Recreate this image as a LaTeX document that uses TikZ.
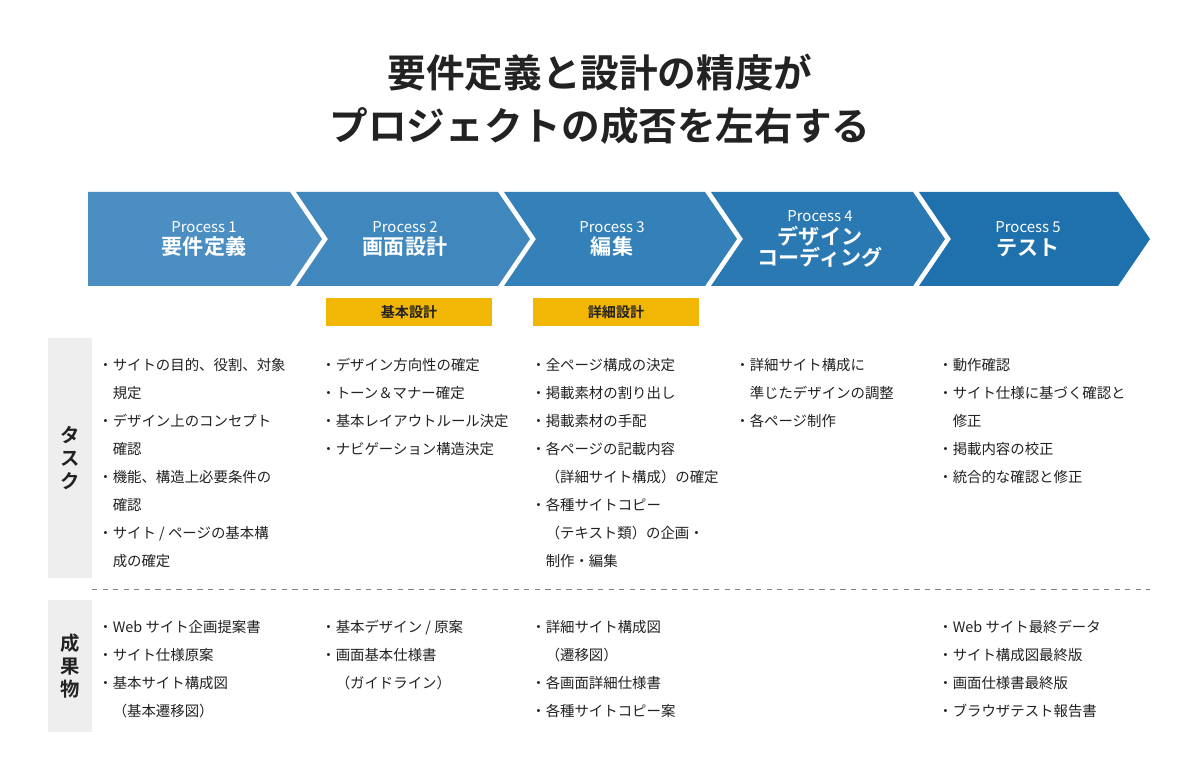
\documentclass[tikz,border=0pt]{standalone}
\usepackage{fontspec}
\setmainfont{Noto Sans CJK JP}
\newfontfamily\jpb{Noto Sans CJK JP Bold}
\definecolor{ca}{HTML}{4B8FC2}
\definecolor{cb}{HTML}{3F87BD}
\definecolor{cc}{HTML}{3480B8}
\definecolor{cd}{HTML}{2A79B3}
\definecolor{ce}{HTML}{1F71AD}
\definecolor{ylw}{HTML}{F2B705}
\definecolor{gry}{HTML}{EEEEEE}
\definecolor{txt}{HTML}{222222}
\begin{document}
\begin{tikzpicture}[x=0.02cm,y=-0.02cm,
  lst/.style={anchor=north west,inner sep=0,align=left,font=\fontsize{8.2}{15.9}\selectfont,text=txt},
  proc/.style={text=white,align=center,inner sep=0},
  ybox/.style={fill=ylw,minimum width=3.32cm,minimum height=0.56cm,inner sep=0,font=\jpb\fontsize{8}{10}\selectfont,text=txt},
  side/.style={fill=gry,minimum width=0.88cm,inner sep=0,font=\jpb\fontsize{11}{13}\selectfont,text=txt,align=center}]
\fill[white] (0,0) rectangle (1200,783);
\node[font=\jpb\fontsize{22}{30}\selectfont,text=txt,align=center] (title) at (600,99) {要件定義と設計の精度が\\プロジェクトの成否を左右する};
% chevrons
\fill[ca] (88,192) -- (290,192) -- (322,239) -- (290,286) -- (88,286) -- cycle;
\fill[cb] (296,192) -- (498,192) -- (530,239) -- (498,286) -- (296,286) -- (328,239) -- cycle;
\fill[cc] (504,192) -- (705,192) -- (737,239) -- (705,286) -- (504,286) -- (536,239) -- cycle;
\fill[cd] (711,192) -- (913,192) -- (945,239) -- (913,286) -- (711,286) -- (743,239) -- cycle;
\fill[ce] (919,192) -- (1118,192) -- (1150,239) -- (1118,286) -- (919,286) -- (951,239) -- cycle;
\node[proc] (p1) at (204,239) {\fontsize{8.5}{14}\selectfont Process 1\\[1pt]\jpb\fontsize{12}{14}\selectfont 要件定義};
\node[proc] (p2) at (405,239) {\fontsize{8.5}{14}\selectfont Process 2\\[1pt]\jpb\fontsize{12}{14}\selectfont 画面設計};
\node[proc] (p3) at (612,239) {\fontsize{8.5}{14}\selectfont Process 3\\[1pt]\jpb\fontsize{12}{14}\selectfont 編集};
\node[proc] (p4) at (820,239) {\fontsize{8.5}{14}\selectfont Process 4\\[1pt]\jpb\fontsize{12}{14}\selectfont デザイン\\\jpb\fontsize{12}{14}\selectfont コーディング};
\node[proc] (p5) at (1028,239) {\fontsize{8.5}{14}\selectfont Process 5\\[1pt]\jpb\fontsize{12}{14}\selectfont テスト};
\node[ybox] (y1) at (409,312) {基本設計};
\node[ybox] (y2) at (616,312) {詳細設計};
\node[side,minimum height=4.8cm] (s1) at (70,458) {タ\\ス\\ク};
\node[side,minimum height=2.66cm] (s2) at (70,666) {成\\果\\物};
\draw[dashed,gray] (92,589) -- (1150,589);
% tasks
\node[lst] (t1) at (98,358) {・サイトの目的、役割、対象\\　規定\\・デザイン上のコンセプト\\　確認\\・機能、構造上必要条件の\\　確認\\・サイト / ページの基本構\\　成の確定};
\node[lst] (t2) at (321,358) {・デザイン方向性の確定\\・トーン＆マナー確定\\・基本レイアウトルール決定\\・ナビゲーション構造決定};
\node[lst] (t3) at (531,358) {・全ページ構成の決定\\・掲載素材の割り出し\\・掲載素材の手配\\・各ページの記載内容\\　（詳細サイト構成）の確定\\・各種サイトコピー\\　（テキスト類）の企画・\\　制作・編集};
\node[lst] (t4) at (735,358) {・詳細サイト構成に\\　準じたデザインの調整\\・各ページ制作};
\node[lst] (t5) at (938,358) {・動作確認\\・サイト仕様に基づく確認と\\　修正\\・掲載内容の校正\\・統合的な確認と修正};
% deliverables
\node[lst] (d1) at (98,620) {・Web サイト企画提案書\\・サイト仕様原案\\・基本サイト構成図\\　（基本遷移図）};
\node[lst] (d2) at (321,620) {・基本デザイン / 原案\\・画面基本仕様書\\　（ガイドライン）};
\node[lst] (d3) at (531,620) {・詳細サイト構成図\\　（遷移図）\\・各画面詳細仕様書\\・各種サイトコピー案};
\node[lst] (d5) at (938,620) {・Web サイト最終データ\\・サイト構成図最終版\\・画面仕様書最終版\\・ブラウザテスト報告書};
\end{tikzpicture}
\end{document}
